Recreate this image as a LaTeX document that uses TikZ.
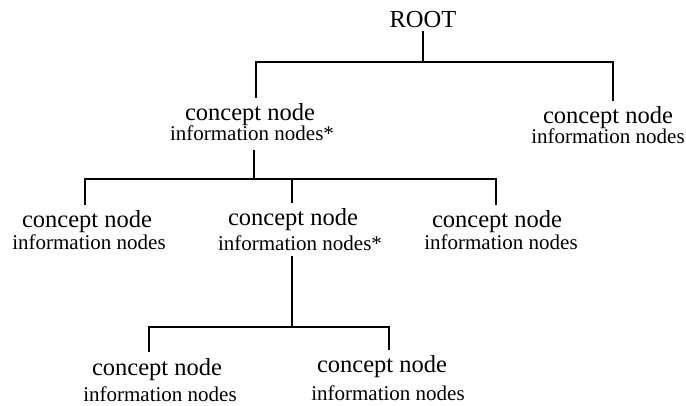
\documentclass[tikz,border=0pt]{standalone}
\usepackage{fontspec}
\setmainfont{Liberation Serif}
\begin{document}
\begin{tikzpicture}[x=1pt,y=-1pt,
  concept/.style={font=\fontsize{24.5}{28}\selectfont, inner sep=0pt, anchor=base},
  info/.style={font=\fontsize{21}{24}\selectfont, inner sep=0pt, anchor=base},
  link/.style={line width=1.5pt, shorten <=4pt, shorten >=6pt}]
\useasboundingbox (0,0) rectangle (686,406);

% root
\node[concept] (root) at (423,28) {ROOT};

% first level
\node[concept] (a)  at (250,121) {concept node};
\node[info]    (ai) at (252,141) {information nodes*};
\node[concept] (b)  at (608,124) {concept node};
\node[info]    (bi) at (608,144) {information nodes};

% second level
\node[concept] (c)  at (87,228)  {concept node};
\node[info]    (ci) at (89,250)  {information nodes};
\node[concept] (d)  at (293,226) {concept node};
\node[info]    (di) at (300,251) {information nodes*};
\node[concept] (e)  at (497,228) {concept node};
\node[info]    (ei) at (501,250) {information nodes};

% third level
\node[concept] (f)  at (157,375) {concept node};
\node[info]    (fi) at (160,401) {information nodes};
\node[concept] (g)  at (382,373) {concept node};
\node[info]    (gi) at (388,400) {information nodes};

% connectors: trunk, bar, drop
\draw[link, shorten <=3pt] (root.south) -- (root.south |- 0,62) -| ([xshift=6pt]a.north);
\draw[link, shorten <=3pt] (root.south) -- (root.south |- 0,62) -| ([xshift=5pt]b.north);

\draw[link, shorten <=9pt] ([xshift=2pt]ai.south) -- ([xshift=2pt]ai.south |- 0,179) -| ([xshift=-2pt]c.north);
\draw[link, shorten <=9pt] ([xshift=2pt]ai.south) -- ([xshift=2pt]ai.south |- 0,179) -| ([xshift=-1pt]d.north);
\draw[link, shorten <=9pt] ([xshift=2pt]ai.south) -- ([xshift=2pt]ai.south |- 0,179) -| ([xshift=-1pt]e.north);

\draw[link, shorten <=5pt] ([xshift=-8pt]di.south) -- ([xshift=-8pt]di.south |- 0,327) -| ([xshift=-8pt]f.north);
\draw[link, shorten <=5pt] ([xshift=-8pt]di.south) -- ([xshift=-8pt]di.south |- 0,327) -| ([xshift=7pt]g.north);
\end{tikzpicture}
\end{document}
